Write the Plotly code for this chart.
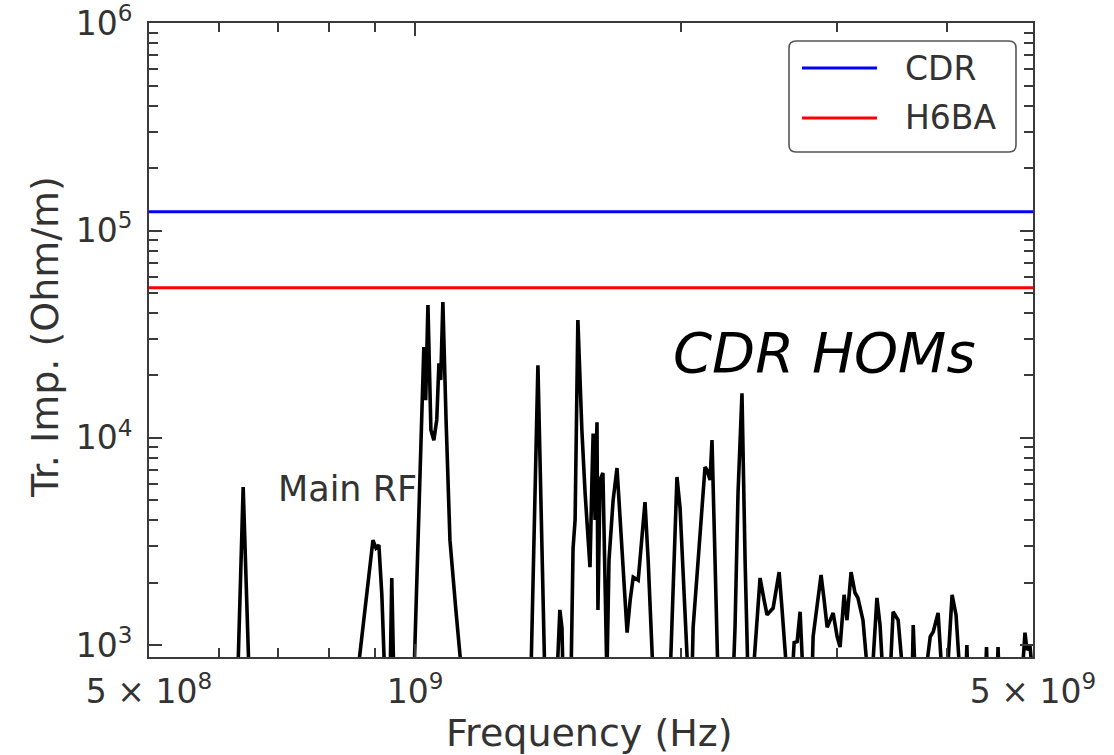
import plotly.graph_objects as go

# ---------------- data ----------------
freq_ghz = [
    0.630, 0.639, 0.649,
    0.860, 0.896, 0.903, 0.910, 0.917, 0.924, 0.937, 0.941, 0.946,
    0.997, 1.023, 1.028, 1.034, 1.042, 1.050, 1.058, 1.064, 1.069, 1.075, 1.084, 1.095, 1.112, 1.130,
    1.352, 1.377, 1.402,
    1.447, 1.458, 1.466, 1.470,
    1.501, 1.509, 1.517, 1.528, 1.544, 1.557, 1.569, 1.577, 1.585, 1.590, 1.598, 1.606, 1.610,
    1.619, 1.631, 1.640, 1.648, 1.657, 1.675, 1.692, 1.706, 1.724, 1.737, 1.751, 1.765, 1.788,
    1.806, 1.820, 1.835, 1.859,
    1.943, 1.963, 1.978, 1.994, 2.010, 2.036,
    2.057, 2.063, 2.089, 2.117, 2.128, 2.139, 2.156, 2.167, 2.184, 2.201,
    2.290, 2.301, 2.319, 2.343, 2.362, 2.380,
    2.411, 2.437, 2.456, 2.482, 2.501, 2.541, 2.581, 2.601, 2.635,
    2.670, 2.684, 2.705, 2.726, 2.747,
    2.812, 2.820, 2.879, 2.902, 2.925, 2.948, 2.971, 3.002, 3.025, 3.057, 3.080, 3.113, 3.145,
    3.169, 3.211, 3.253,
    3.288, 3.330, 3.357, 3.383,
    3.446, 3.473, 3.519, 3.565,
    3.650, 3.660, 3.679,
    3.776, 3.826, 3.856, 3.905, 3.946,
    3.998, 4.050, 4.092, 4.135,
    4.198, 4.209, 4.220,
    4.418, 4.430, 4.441,
    4.553, 4.565, 4.577,
    4.859, 4.897, 4.922, 4.960, 4.998,
]
impedance = [
    700, 5790, 700,
    700, 3210, 2940, 3040, 1750, 700, 700, 2110, 700,
    700, 27400, 15200, 43700, 10900, 9750, 12200, 22900, 19000, 45200, 12200, 3210, 1480, 700,
    700, 22400, 700,
    700, 1480, 1210, 700,
    700, 2940, 4020, 37000, 10900, 5420, 3480, 2380, 6270, 10500, 4020, 11900, 1480,
    6270, 6770, 2570, 700, 2570, 5010, 7150, 4020, 2060, 1150, 1650, 2130, 2060,
    3210, 4900, 2570, 700,
    700, 2570, 6470, 4590, 2060, 700,
    700, 1220, 2490, 5010, 7230, 7000, 6270, 9750, 2570, 700,
    700, 1220, 5420, 16400, 2570, 700,
    700, 1320, 2110, 1650, 1400, 1510, 2250, 1480, 700,
    700, 1030, 1040, 1450, 700,
    700, 1100, 2180, 1650, 1220, 1320, 1430, 1100, 980, 1750, 1320, 2250, 1790,
    1690, 1320, 700,
    700, 1690, 1250, 700,
    700, 1450, 1320, 700,
    700, 1250, 700,
    700, 1100, 1160, 1430, 700,
    700, 1750, 1400, 700,
    700, 1000, 700,
    700, 980, 700,
    700, 980, 700,
    700, 1150, 948, 1000, 700,
]
freq_hz = [f * 1e9 for f in freq_ghz]

line_freq = [5e8, 5e9]
cdr_level = 1.23e5
h6ba_level = 5.3e4

series_names = ["CDR", "H6BA"]
series_colors = ["#0000ff", "#ff0000"]

x_major_vals = [5e8, 1e9, 5e9]
x_major_text = ["5 × 10<sup>8</sup>", "10<sup>9</sup>", "5 × 10<sup>9</sup>"]
x_minor_vals = [6e8, 7e8, 8e8, 9e8, 2e9, 3e9, 4e9]
y_major_vals = [1e3, 1e4, 1e5, 1e6]
y_major_text = ["10<sup>3</sup>", "10<sup>4</sup>", "10<sup>5</sup>", "10<sup>6</sup>"]
y_minor_vals = [m * d for d in (1e3, 1e4, 1e5) for m in range(2, 10)]

# ---------------- layout geometry ----------------
W, H = 1114, 755
L, R, T, B = 149, 1033, 23, 657
PW, PH = R - L, B - T


def px(xp):
    return (xp - L) / PW


def py(yp):
    return (B - yp) / PH


FONT = "DejaVu Sans"
TXT = "#333333"
AX = "#3a3a3a"

fig = go.Figure()
fig.add_trace(go.Scatter(x=line_freq, y=[cdr_level] * 2, mode="lines",
                         line=dict(color=series_colors[0], width=3),
                         name=series_names[0], showlegend=False))
fig.add_trace(go.Scatter(x=line_freq, y=[h6ba_level] * 2, mode="lines",
                         line=dict(color=series_colors[1], width=3),
                         name=series_names[1], showlegend=False))
fig.add_trace(go.Scatter(x=freq_hz, y=impedance, mode="lines",
                         line=dict(color="#000000", width=3.6),
                         name="CDR HOMs", showlegend=False))

axis_common = dict(
    type="log", showgrid=False, zeroline=False, showline=True,
    linecolor=AX, linewidth=2, mirror="ticks", ticks="inside",
    ticklen=13, tickwidth=1.6, tickcolor=AX,
    ticklabeloverflow="allow", automargin=False,
    tickfont=dict(family=FONT, size=33, color=TXT),
)

fig.update_layout(
    width=W, height=H,
    margin=dict(l=L, r=W - R, t=T, b=H - B, autoexpand=False),
    paper_bgcolor="white", plot_bgcolor="white",
    showlegend=False,
    xaxis=dict(**axis_common, range=[8.69897, 9.69898],
               tickmode="array", tickvals=x_major_vals, ticktext=x_major_text,
               ticklabelstandoff=4,
               minor=dict(tickmode="array", tickvals=x_minor_vals, ticks="inside",
                          ticklen=9, tickwidth=1.6, tickcolor=AX)),
    yaxis=dict(**axis_common, range=[2.943, 6.0008],
               tickmode="array", tickvals=y_major_vals, ticktext=y_major_text,
               ticklabelstandoff=8,
               minor=dict(tickmode="array", tickvals=y_minor_vals, ticks="inside",
                          ticklen=9, tickwidth=1.6, tickcolor=AX)),
)

# axis titles
fig.add_annotation(text="Frequency (Hz)", xref="paper", yref="paper",
                   x=0.498, y=0, yanchor="middle", yshift=-76, showarrow=False,
                   font=dict(family=FONT, size=38, color=TXT))
fig.add_annotation(text="Tr. Imp. (Ohm/m)", xref="paper", yref="paper",
                   x=0, y=py(337), xanchor="center", xshift=-104, textangle=-90,
                   showarrow=False, font=dict(family=FONT, size=38, color=TXT))

# in-plot labels
fig.add_annotation(text="Main RF", xref="paper", yref="paper",
                   x=px(276), y=py(489), xanchor="left", yanchor="middle",
                   showarrow=False, font=dict(family=FONT, size=35, color=TXT))
fig.add_annotation(text="<i>CDR HOMs</i>", xref="paper", yref="paper",
                   x=px(824), y=py(352), xanchor="center", yanchor="middle",
                   showarrow=False, font=dict(family=FONT, size=56, color="#000000"))

# manual legend
bx0, by0, bx1, by1, rr = 789, 41, 1016, 152, 7
rx, ry = rr / PW, rr / PH
x0, x1, y0, y1 = px(bx0), px(bx1), py(by1), py(by0)
path = (f"M{x0+rx},{y0} L{x1-rx},{y0} Q{x1},{y0} {x1},{y0+ry} "
        f"L{x1},{y1-ry} Q{x1},{y1} {x1-rx},{y1} L{x0+rx},{y1} "
        f"Q{x0},{y1} {x0},{y1-ry} L{x0},{y0+ry} Q{x0},{y0} {x0+rx},{y0} Z")
fig.add_shape(type="path", path=path, xref="paper", yref="paper",
              line=dict(color="#555555", width=1.6), fillcolor="rgba(255,255,255,0.85)")
for name, color, yrow in zip(series_names, series_colors, [68, 118]):
    fig.add_shape(type="line", xref="paper", yref="paper",
                  x0=px(802), x1=px(877), y0=py(yrow), y1=py(yrow),
                  line=dict(color=color, width=3))
    fig.add_annotation(text=name, xref="paper", yref="paper",
                       x=px(903), y=py(yrow), xanchor="left", yanchor="middle",
                       showarrow=False, font=dict(family=FONT, size=33, color=TXT))

fig.write_html("out.html")
